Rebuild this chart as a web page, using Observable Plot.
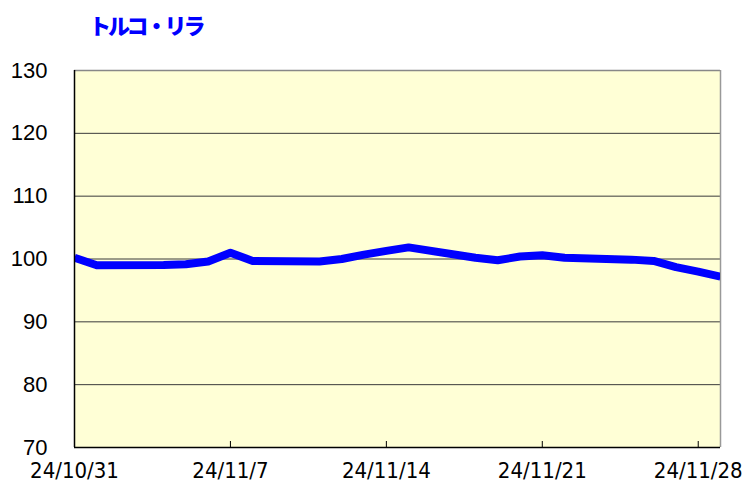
<!DOCTYPE html>
<html>
<head>
<meta charset="utf-8">
<script src="https://cdn.jsdelivr.net/npm/d3@7"></script>
<script src="https://cdn.jsdelivr.net/npm/@observablehq/plot@0.6"></script>
<style>
  html, body { margin: 0; padding: 0; background: #fff; }
  #wrap { position: relative; width: 749px; height: 485px; }
  #title { position: absolute; left: 89px; top: 12px; font-family: "Noto Sans CJK JP", sans-serif; font-weight: 900; font-size: 22px; color: #0000ff; line-height: 1.1; letter-spacing: -3px; }
</style>
</head>
<body>
<div id="wrap"><div id="title">トルコ・リラ</div></div>
<script>
const titleText = "トルコ・リラ";
const dates = ["2024-10-31","2024-11-01","2024-11-04","2024-11-05","2024-11-06","2024-11-07","2024-11-08",
  "2024-11-11","2024-11-12","2024-11-13","2024-11-14","2024-11-15",
  "2024-11-18","2024-11-19","2024-11-20","2024-11-21","2024-11-22",
  "2024-11-25","2024-11-26","2024-11-27","2024-11-28","2024-11-29"];
const values = [100.2, 99.0, 99.05, 99.15, 99.6, 101.0, 99.7,
  99.6, 100.0, 100.7, 101.3, 101.85,
  100.2, 99.8, 100.4, 100.6, 100.2,
  99.9, 99.7, 98.7, 98.0, 97.2];
const xDomain = ["2024-10-31", "2024-11-29"];
const xTicks = ["2024-10-31","2024-11-07","2024-11-14","2024-11-21","2024-11-28"];
const xTickLabels = ["24/10/31","24/11/7","24/11/14","24/11/21","24/11/28"];
const yTicks = [70, 80, 90, 100, 110, 120, 130];

const data = dates.map((d, i) => ({date: new Date(d), value: values[i]}));
const tickDates = xTicks.map(d => new Date(d));
const labelOf = new Map(tickDates.map((d, i) => [+d, xTickLabels[i]]));
const [x0, x1] = xDomain.map(d => new Date(d));

const chart = Plot.plot({
  width: 749,
  height: 485,
  marginLeft: 74,
  marginRight: 29,
  marginTop: 70,
  marginBottom: 38,
  style: {background: "transparent", overflow: "visible"},
  x: {type: "utc", domain: [x0, x1]},
  y: {domain: [70, 130]},
  marks: [
    Plot.frame({fill: "#ffffd6", stroke: "none"}),
    Plot.ruleY(yTicks.filter(v => v > 70 && v < 130), {stroke: "#3a3a3a", strokeWidth: 1}),
    Plot.ruleY([130], {stroke: "#888", strokeWidth: 1.5}),
    Plot.ruleX([x1], {stroke: "#999", strokeWidth: 1.5}),
    Plot.lineY(data, {x: "date", y: "value", stroke: "#0000ff", strokeWidth: 8, strokeLinejoin: "round", strokeLinecap: "butt", clip: true}),
    Plot.ruleX([x0], {stroke: "#000", strokeWidth: 1.5}),
    Plot.ruleY([70], {stroke: "#000", strokeWidth: 1.5}),
    Plot.axisX({ticks: tickDates, tickSize: -6, text: null, stroke: "#000"}),
    Plot.axisX({ticks: tickDates, tickSize: 0, tickPadding: 15, tickFormat: d => labelOf.get(+d),
      fontFamily: "DejaVu Sans Condensed", fontSize: 22, fill: "#000", label: null}),
    Plot.axisY({ticks: yTicks, tickSize: 0, tickPadding: 27, fontFamily: "Liberation Sans, Arial", fontSize: 22, fill: "#000", label: null})
  ]
});
document.getElementById("wrap").appendChild(chart);
</script>
</body>
</html>
